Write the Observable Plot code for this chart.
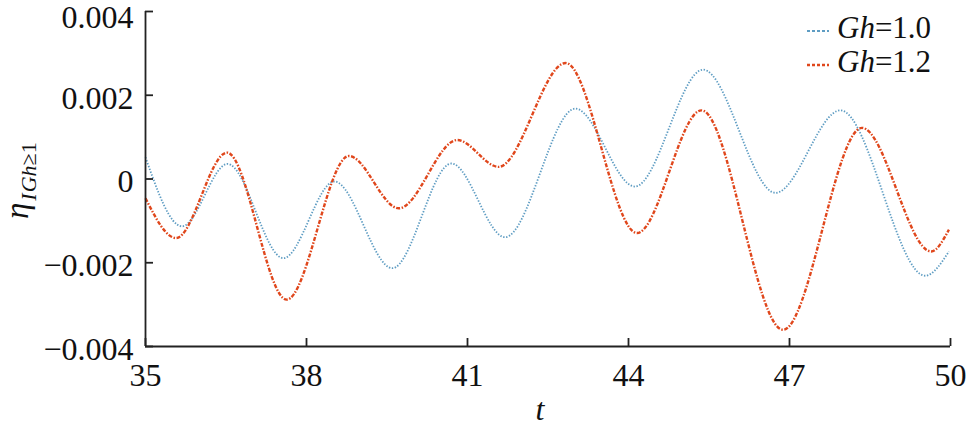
<!DOCTYPE html>
<html>
<head>
<meta charset="utf-8">
<script src="https://cdn.jsdelivr.net/npm/d3@7"></script>
<script src="https://cdn.jsdelivr.net/npm/@observablehq/plot@0.6"></script>
<style>
  html, body { margin: 0; padding: 0; background: #ffffff; }
  #chart { width: 966px; height: 428px; }
</style>
</head>
<body>
<div id="chart"></div>
<script>
// Series Gh = 1.0 (extrema)
const tBlue = [35.00, 35.68, 36.53, 37.57, 38.52, 39.60, 40.70, 41.70, 43.01, 44.12, 45.39, 46.74, 47.95, 49.53, 49.97];
const vBlue = [0.00052, -0.00113, 0.00036, -0.00189, -0.00006, -0.00213, 0.00037, -0.00139, 0.00168, -0.00018, 0.00261, -0.00033, 0.00164, -0.00231, -0.00173];
// Series Gh = 1.2
const tRed = [35.00, 35.57, 36.52, 37.63, 38.79, 39.72, 40.81, 41.58, 42.83, 44.16, 45.36, 46.88, 48.35, 49.64, 49.97];
const vRed = [-0.00046, -0.00141, 0.00063, -0.00288, 0.00055, -0.00070, 0.00093, 0.00029, 0.00277, -0.00129, 0.00164, -0.00360, 0.00122, -0.00173, -0.00121];

const xTicks = [35, 38, 41, 44, 47, 50];
const yTicks = [-0.004, -0.002, 0, 0.002, 0.004];
const yTickLabels = ["\u22120.004", "\u22120.002", "0", "0.002", "0.004"];
const seriesNames = ["Gh=1.0", "Gh=1.2"];

const blueColor = "#5f9dc3";
const redColor = "#e0471c";
const blueDash = "1.4,1.6";
const redDash = "4,1.6,1.5,1.6";

const blue = tBlue.map((t, i) => ({t, v: vBlue[i]}));
const red = tRed.map((t, i) => ({t, v: vRed[i]}));

const W = 966, H = 428;
const mL = 145, mR = 16, mT = 11, mB = 82;
const font = "'Liberation Serif', 'Times New Roman', serif";
const fmtY = (d) => yTickLabels[yTicks.indexOf(d)];

const plot = Plot.plot({
  width: W,
  height: H,
  marginLeft: mL,
  marginRight: mR,
  marginTop: mT,
  marginBottom: mB,
  style: {fontFamily: font, background: "transparent", color: "#111"},
  x: {domain: [35, 50]},
  y: {domain: [-0.004, 0.004]},
  marks: [
    Plot.axisX(xTicks, {tickSize: 0, tickPadding: 17, fontSize: 32, label: null}),
    Plot.axisY(yTicks.slice(0, 4), {tickSize: 0, tickPadding: 12, fontSize: 32, dy: 3, label: null, tickFormat: fmtY}),
    Plot.axisY(yTicks.slice(4), {tickSize: 0, tickPadding: 12, fontSize: 32, dy: 6, label: null, tickFormat: fmtY}),
    Plot.line(blue, {x: "t", y: "v", curve: "monotone-x", stroke: blueColor, strokeWidth: 1.8, strokeLinecap: "butt", strokeDasharray: blueDash}),
    Plot.line(red, {x: "t", y: "v", curve: "monotone-x", stroke: redColor, strokeWidth: 2.4, strokeLinecap: "butt", strokeDasharray: redDash}),
    Plot.ruleX([35], {stroke: "#222", strokeWidth: 1.8}),
    Plot.ruleY([-0.004], {stroke: "#222", strokeWidth: 1.8}),
    Plot.ruleX(xTicks, {y1: -0.004, y2: -0.004, insetTop: -8, stroke: "#222", strokeWidth: 1.8}),
    Plot.ruleY(yTicks, {x1: 35, x2: 35, insetRight: -8, stroke: "#222", strokeWidth: 1.8})
  ]
});

document.getElementById("chart").appendChild(plot);

const svg = d3.select(plot);

// x-axis label
svg.append("text")
  .attr("x", 540).attr("y", 420)
  .attr("text-anchor", "middle")
  .attr("font-family", font).attr("font-size", 32).attr("font-style", "italic")
  .attr("fill", "#111")
  .text("t");

// y-axis label: η_{I Gh≥1}
const yl = svg.append("text")
  .attr("transform", "translate(28,219) rotate(-90)")
  .attr("text-anchor", "start")
  .attr("font-family", font).attr("fill", "#111");
yl.append("tspan").attr("font-size", 33).attr("font-style", "italic").text("η");
yl.append("tspan").attr("font-size", 22).attr("font-style", "italic").attr("dy", 8).attr("dx", 2).text("I");
yl.append("tspan").attr("font-size", 22).attr("font-style", "italic").attr("dx", 1).text("Gh");
yl.append("tspan").attr("font-size", 22).text("≥1");

// legend
const legend = [
  {name: seriesNames[0], color: blueColor, dash: "3,2", w: 1.8},
  {name: seriesNames[1], color: redColor, dash: "3,2", w: 2.3}
];
legend.forEach((d, i) => {
  const yy = 31 + i * 34;
  svg.append("line")
    .attr("x1", 807).attr("x2", 829).attr("y1", yy).attr("y2", yy)
    .attr("stroke", d.color).attr("stroke-width", d.w).attr("stroke-dasharray", d.dash);
  const tx = svg.append("text")
    .attr("x", 837).attr("y", yy + 7)
    .attr("text-anchor", "start")
    .attr("font-family", font).attr("font-size", 31).attr("fill", "#111");
  const [lab, val] = d.name.split("=");
  tx.append("tspan").attr("font-style", "italic").text(lab);
  tx.append("tspan").text("=" + val);
});
</script>
</body>
</html>
